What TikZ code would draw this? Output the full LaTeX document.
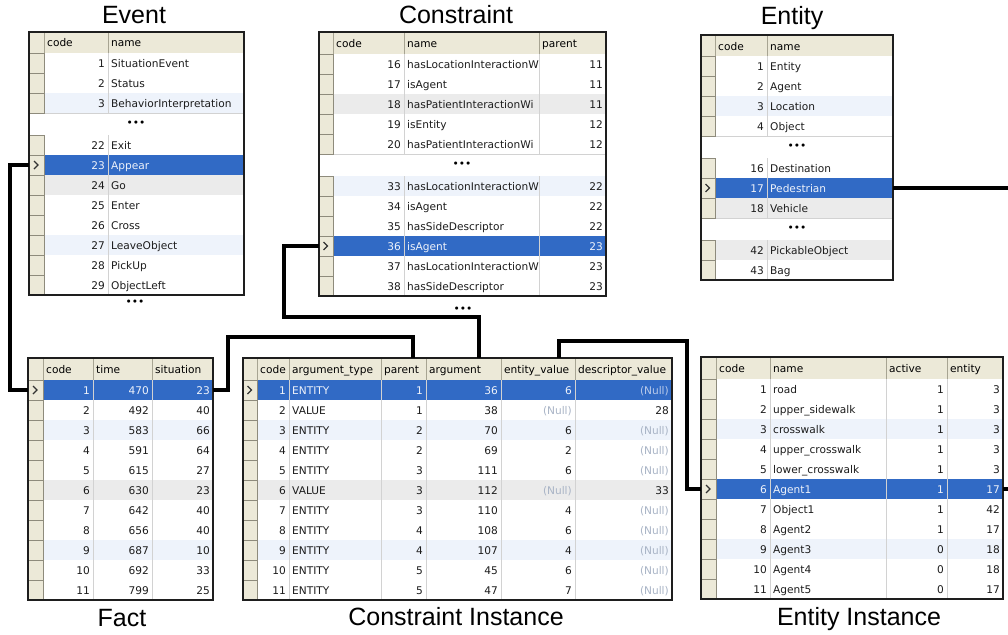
\documentclass[tikz,border=0pt]{standalone}
\usepackage{fontspec}
\setmainfont{Liberation Sans}
\newfontfamily\gridfont{DejaVu Sans}

% palette
\definecolor{hdrbeige}{HTML}{ECE9D8}
\definecolor{hdrline}{HTML}{A7A492}
\definecolor{selline}{HTML}{8E8B7C}
\definecolor{gridgrey}{HTML}{D2D2D2}
\definecolor{frameblack}{HTML}{1E1E1E}
\colorlet{rowplain}{white}
\definecolor{rowtintb}{HTML}{EEF3FB}
\definecolor{rowtintg}{HTML}{EBEBEB}
\definecolor{rowsel}{HTML}{316AC5}
\definecolor{inkplain}{HTML}{1C1C1C}
\colorlet{inktintb}{inkplain}
\colorlet{inktintg}{inkplain}
\definecolor{inksel}{HTML}{EEF2FA}
\definecolor{nullplain}{HTML}{A9B4C6}
\colorlet{nulltintb}{nullplain}
\colorlet{nulltintg}{nullplain}
\definecolor{nullsel}{HTML}{B9CAEA}

\newcommand\cellsize{\gridfont\fontsize{10.6}{12}\selectfont}
\newcommand\nul{\textcolor{null\kd}{(Null)}}
\newcommand\selmark[1]{\draw[pointer] ([shift={(-2.5pt,4pt)}]#1.center) -- ([shift={(1.5pt,0pt)}]#1.center) -- ([shift={(-2.5pt,-4pt)}]#1.center);}

\tikzset{
  rowbg/.style={inner sep=0pt, outer sep=0pt, anchor=north west, minimum height=20},
  hdrcell/.style={inner sep=0pt, outer sep=0pt, anchor=north west, fill=hdrbeige, draw=hdrline, line width=0.8pt},
  selcell/.style={inner sep=0pt, outer sep=0pt, anchor=north west, fill=hdrbeige, draw=selline, line width=0.8pt, minimum height=20},
  num/.style={anchor=base east, inner sep=0pt, font=\cellsize},
  txt/.style={anchor=base west, inner sep=0pt, font=\cellsize},
  gridline/.style={draw=gridgrey, line width=0.7pt},
  tabframe/.style={draw=frameblack, line width=1.8pt, inner sep=0pt, outer sep=0pt, anchor=north west},
  link/.style={draw=black, line width=4.6pt},
  tabtitle/.style={font=\fontsize{25}{30}\selectfont, inner sep=0pt, anchor=base},
  moredots/.style={font=\cellsize, inner sep=0pt},
  pointer/.style={draw=black!80, line width=1.3pt},
}

\begin{document}
\begin{tikzpicture}[x=1pt,y=-1pt]
\useasboundingbox (0,0) rectangle (1008,634);
\clip (0,0) rectangle (1008,634);

% ================= Event =================
\node[tabtitle] (ev-title) at (134,23.5) {Event};
\node[hdrcell, minimum width=15, minimum height=21] (ev-hsel) at (29,32) {};
\foreach \xl/\xr/\lab in {44/108/code, 108/244/name}{
  \node[hdrcell, minimum width=\xr-\xl, minimum height=21] (ev-h\lab) at (\xl,32) {};
  \node[txt] (ev-h\lab-t) at (\xl+3,47) {\lab};
}
\node[rowbg, fill=white, minimum width=215, minimum height=22] (ev-gap) at (29,113) {};
\draw[gridline] (ev-gap.south west) -- (ev-gap.south east);
\node[moredots] (ev-gap-dots) at (136,124) {•••};
\foreach \cd/\nm/\yy/\kd in {1/SituationEvent/53/plain, 2/Status/73/plain,
  3/BehaviorInterpretation/93/tintb, 22/Exit/135/plain, 23/Appear/155/sel,
  24/Go/175/tintg, 25/Enter/195/plain, 26/Cross/215/plain,
  27/LeaveObject/235/tintb, 28/PickUp/255/plain, 29/ObjectLeft/275/plain}{
  \node[rowbg, fill=row\kd, minimum width=215] (ev-\cd) at (29,\yy) {};
  \draw[gridline] (108,\yy) -- (108,\yy+20) (44,\yy+20) -- (244,\yy+20);
  \node[selcell, minimum width=15] (ev-\cd-s) at (29,\yy) {};
  \node[num, text=ink\kd] (ev-\cd-code) at (105,\yy+14.5) {\cd};
  \node[txt, text=ink\kd] (ev-\cd-name) at (111,\yy+14.5) {\nm};
}
\selmark{ev-23-s}
\node[tabframe, minimum width=215, minimum height=263] (ev) at (29,32) {};
\node[moredots] (ev-more) at (135,303) {•••};

% ================= Constraint =================
\node[tabtitle] (cs-title) at (456,24) {Constraint};
\node[hdrcell, minimum width=14, minimum height=22] (cs-hsel) at (319,32) {};
\foreach \xl/\xr/\lab in {333/404/code, 404/539/name, 539/606/parent}{
  \node[hdrcell, minimum width=\xr-\xl, minimum height=22] (cs-h\lab) at (\xl,32) {};
  \node[txt] (cs-h\lab-t) at (\xl+3,47.5) {\lab};
}
\node[rowbg, fill=white, minimum width=287, minimum height=22] (cs-gap) at (319,154) {};
\draw[gridline] (cs-gap.south west) -- (cs-gap.south east);
\node[moredots] (cs-gap-dots) at (462,165) {•••};
\foreach \cd/\nm/\ta/\yy/\kd in {16/hasLocationInteractionW/11/54/plain,
  17/isAgent/11/74/plain, 18/hasPatientInteractionWi/11/94/tintg,
  19/isEntity/12/114/plain, 20/hasPatientInteractionWi/12/134/plain,
  33/hasLocationInteractionW/22/176/tintb, 34/isAgent/22/196/plain,
  35/hasSideDescriptor/22/216/plain, 36/isAgent/23/236/sel,
  37/hasLocationInteractionW/23/256/plain, 38/hasSideDescriptor/23/276/plain}{
  \node[rowbg, fill=row\kd, minimum width=287] (cs-\cd) at (319,\yy) {};
  \draw[gridline] (404,\yy) -- (404,\yy+20) (539,\yy) -- (539,\yy+20)
                  (333,\yy+20) -- (606,\yy+20);
  \node[selcell, minimum width=14] (cs-\cd-s) at (319,\yy) {};
  \node[num, text=ink\kd] (cs-\cd-code) at (401,\yy+14.5) {\cd};
  \begin{scope}
    \clip (404,\yy) rectangle (538,\yy+20);
    \node[txt, text=ink\kd] (cs-\cd-name) at (407,\yy+14.5) {\nm};
  \end{scope}
  \node[num, text=ink\kd] (cs-\cd-parent) at (603,\yy+14.5) {\ta};
}
\selmark{cs-36-s}
\node[tabframe, minimum width=287, minimum height=264] (cs) at (319,32) {};
\node[moredots] (cs-more) at (463,310) {•••};

% ================= Entity =================
\node[tabtitle] (en-title) at (792,25) {Entity};
\node[hdrcell, minimum width=14, minimum height=21] (en-hsel) at (701,35) {};
\foreach \xl/\xr/\lab in {715/767/code, 767/893/name}{
  \node[hdrcell, minimum width=\xr-\xl, minimum height=21] (en-h\lab) at (\xl,35) {};
  \node[txt] (en-h\lab-t) at (\xl+3,50) {\lab};
}
\foreach \yy/\gn in {136/a, 218/b}{
  \node[rowbg, fill=white, minimum width=192, minimum height=22] (en-gap\gn) at (701,\yy) {};
  \draw[gridline] (en-gap\gn.south west) -- (en-gap\gn.south east);
  \node[moredots] (en-gap\gn-dots) at (797,\yy+11) {•••};
}
\foreach \cd/\nm/\yy/\kd in {1/Entity/56/plain, 2/Agent/76/plain,
  3/Location/96/tintb, 4/Object/116/plain, 16/Destination/158/plain,
  17/Pedestrian/178/sel, 18/Vehicle/198/tintg,
  42/PickableObject/240/tintg, 43/Bag/260/plain}{
  \node[rowbg, fill=row\kd, minimum width=192] (en-\cd) at (701,\yy) {};
  \draw[gridline] (767,\yy) -- (767,\yy+20) (715,\yy+20) -- (893,\yy+20);
  \node[selcell, minimum width=14] (en-\cd-s) at (701,\yy) {};
  \node[num, text=ink\kd] (en-\cd-code) at (764,\yy+14.5) {\cd};
  \node[txt, text=ink\kd] (en-\cd-name) at (770,\yy+14.5) {\nm};
}
\selmark{en-17-s}
\node[tabframe, minimum width=192, minimum height=245] (en) at (701,35) {};

% ================= Fact =================
\node[tabtitle] (fa-title) at (122,626.5) {Fact};
\node[hdrcell, minimum width=15, minimum height=22] (fa-hsel) at (28,358) {};
\foreach \xl/\xr/\lab in {43/93/code, 93/152/time, 152/213/situation}{
  \node[hdrcell, minimum width=\xr-\xl, minimum height=22] (fa-h\lab) at (\xl,358) {};
  \node[txt] (fa-h\lab-t) at (\xl+3,373.5) {\lab};
}
\foreach \cd/\ta/\tb/\kd [count=\i] in {1/470/23/sel, 2/492/40/plain,
  3/583/66/tintb, 4/591/64/plain, 5/615/27/plain, 6/630/23/tintg,
  7/642/40/plain, 8/656/40/plain, 9/687/10/tintb, 10/692/33/plain,
  11/799/25/plain}{
  \pgfmathsetmacro\yy{380+(\i-1)*20}
  \node[rowbg, fill=row\kd, minimum width=185] (fa-\cd) at (28,\yy) {};
  \draw[gridline] (93,\yy) -- (93,\yy+20) (152,\yy) -- (152,\yy+20)
                  (43,\yy+20) -- (213,\yy+20);
  \node[selcell, minimum width=15] (fa-\cd-s) at (28,\yy) {};
  \node[num, text=ink\kd] (fa-\cd-code) at (90,\yy+14.5) {\cd};
  \node[num, text=ink\kd] (fa-\cd-time) at (149,\yy+14.5) {\ta};
  \node[num, text=ink\kd] (fa-\cd-sit) at (210,\yy+14.5) {\tb};
}
\selmark{fa-1-s}
\node[tabframe, minimum width=185, minimum height=242] (fa) at (28,358) {};

% ================= Constraint Instance =================
\node[tabtitle] (ci-title) at (456,625) {Constraint Instance};
\node[hdrcell, minimum width=14, minimum height=22] (ci-hsel) at (243,358) {};
\foreach \xl/\xr/\lab/\hn in {257/289/code/code, 289/381/argument\_type/type,
  381/426/parent/par, 426/501/argument/arg, 501/575/entity\_value/entval,
  575/672/descriptor\_value/descval}{
  \node[hdrcell, minimum width=\xr-\xl, minimum height=22] (ci-h\hn) at (\xl,358) {};
  \node[txt] (ci-h\hn-t) at (\xl+3,373.5) {\lab};
}
\foreach \cd/\ta/\tb/\tc/\td/\te/\kd [count=\i] in {
  1/ENTITY/1/36/6/\nul/sel, 2/VALUE/1/38/\nul/28/plain,
  3/ENTITY/2/70/6/\nul/tintb, 4/ENTITY/2/69/2/\nul/plain,
  5/ENTITY/3/111/6/\nul/plain, 6/VALUE/3/112/\nul/33/tintg,
  7/ENTITY/3/110/4/\nul/plain, 8/ENTITY/4/108/6/\nul/plain,
  9/ENTITY/4/107/4/\nul/tintb, 10/ENTITY/5/45/6/\nul/plain,
  11/ENTITY/5/47/7/\nul/plain}{
  \pgfmathsetmacro\yy{380+(\i-1)*20}
  \node[rowbg, fill=row\kd, minimum width=429] (ci-\cd) at (243,\yy) {};
  \draw[gridline] (289,\yy) -- (289,\yy+20) (381,\yy) -- (381,\yy+20)
                  (426,\yy) -- (426,\yy+20) (501,\yy) -- (501,\yy+20)
                  (575,\yy) -- (575,\yy+20) (257,\yy+20) -- (672,\yy+20);
  \node[selcell, minimum width=14] (ci-\cd-s) at (243,\yy) {};
  \node[num, text=ink\kd] (ci-\cd-code) at (286,\yy+14.5) {\cd};
  \node[txt, text=ink\kd] (ci-\cd-type) at (292,\yy+14.5) {\ta};
  \node[num, text=ink\kd] (ci-\cd-par) at (423,\yy+14.5) {\tb};
  \node[num, text=ink\kd] (ci-\cd-arg) at (498,\yy+14.5) {\tc};
  \node[num, text=ink\kd] (ci-\cd-entval) at (572,\yy+14.5) {\td};
  \node[num, text=ink\kd] (ci-\cd-descval) at (669,\yy+14.5) {\te};
}
\selmark{ci-1-s}
\node[tabframe, minimum width=429, minimum height=242] (ci) at (243,358) {};

% ================= Entity Instance =================
\node[tabtitle] (ei-title) at (859,625) {Entity Instance};
\node[hdrcell, minimum width=15, minimum height=22] (ei-hsel) at (701,357) {};
\foreach \xl/\xr/\lab in {716/770/code, 770/886/name, 886/947/active, 947/1003/entity}{
  \node[hdrcell, minimum width=\xr-\xl, minimum height=22] (ei-h\lab) at (\xl,357) {};
  \node[txt] (ei-h\lab-t) at (\xl+3,372.5) {\lab};
}
\foreach \cd/\nm/\ta/\tb/\kd [count=\i] in {1/road/1/3/plain,
  2/upper\_sidewalk/1/3/plain, 3/crosswalk/1/3/tintb,
  4/upper\_crosswalk/1/3/plain, 5/lower\_crosswalk/1/3/plain,
  6/Agent1/1/17/sel, 7/Object1/1/42/plain, 8/Agent2/1/17/plain,
  9/Agent3/0/18/tintb, 10/Agent4/0/18/plain, 11/Agent5/0/17/plain}{
  \pgfmathsetmacro\yy{379+(\i-1)*20}
  \node[rowbg, fill=row\kd, minimum width=302] (ei-\cd) at (701,\yy) {};
  \draw[gridline] (770,\yy) -- (770,\yy+20) (886,\yy) -- (886,\yy+20)
                  (947,\yy) -- (947,\yy+20) (716,\yy+20) -- (1003,\yy+20);
  \node[selcell, minimum width=15] (ei-\cd-s) at (701,\yy) {};
  \node[num, text=ink\kd] (ei-\cd-code) at (767,\yy+14.5) {\cd};
  \node[txt, text=ink\kd] (ei-\cd-name) at (773,\yy+14.5) {\nm};
  \node[num, text=ink\kd] (ei-\cd-active) at (944,\yy+14.5) {\ta};
  \node[num, text=ink\kd] (ei-\cd-entity) at (1000,\yy+14.5) {\tb};
}
\selmark{ei-6-s}
\node[tabframe, minimum width=302, minimum height=242] (ei) at (701,357) {};

% ================= foreign-key links =================
\draw[link] (ev-23.west) -- ++(-19,0) |- (fa-1.west);
\draw[link] (fa-1.east) -- ++(15,0) -- ++(0,-53) -| ([xshift=9.5pt]ci-hpar.north);
\draw[link] (cs-36.west) -- ++(-35,0) -- ++(0,71) -| ([xshift=15.5pt]ci-harg.north);
\draw[link] ([xshift=21pt]ci-hentval.north) -- ++(0,-17) -| ([xshift=-14pt]ei-6.west) -- (ei-6.west);
\draw[link] (en-17.east) -- ++(118,0) |- (ei-6.east);
\end{tikzpicture}
\end{document}
